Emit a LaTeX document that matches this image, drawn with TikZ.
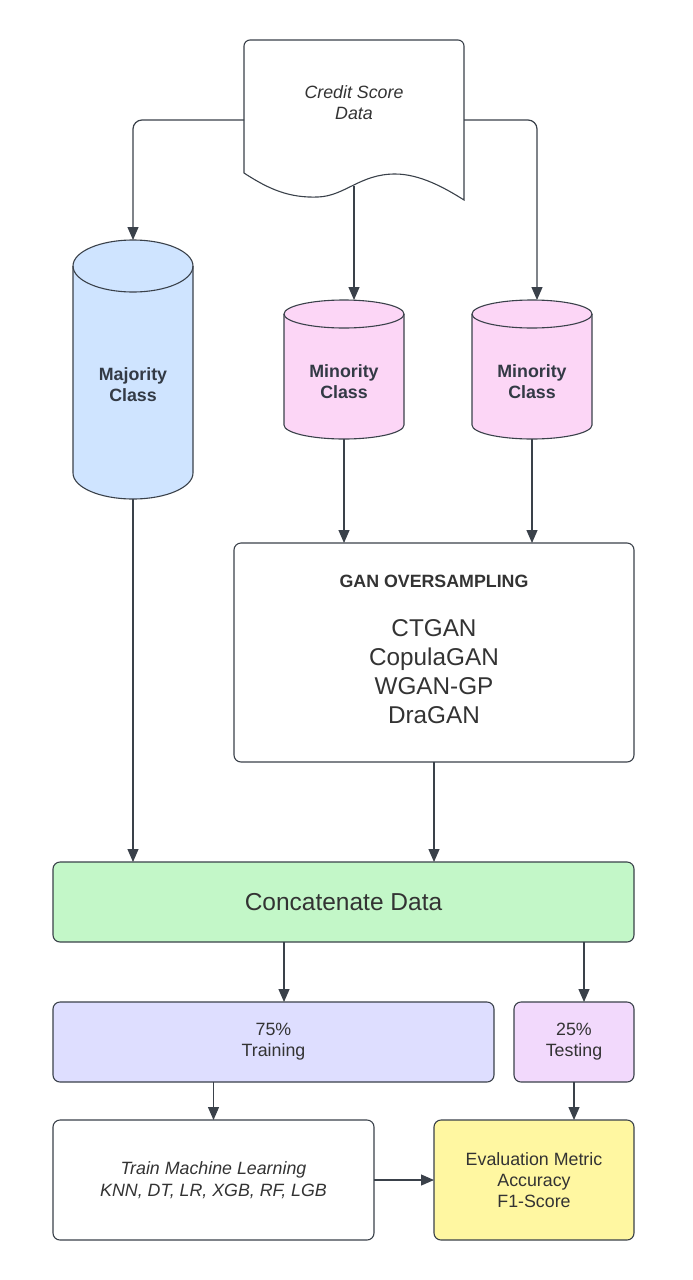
\documentclass[tikz,border=0pt]{standalone}
\usepackage{fontspec}
\setmainfont{Liberation Sans}
\usetikzlibrary{arrows.meta,backgrounds}
\definecolor{ln}{HTML}{3A414A}
\definecolor{tx}{HTML}{333333}
\definecolor{cyltx}{HTML}{333A45}
\definecolor{majfill}{HTML}{CFE4FF}
\definecolor{minfill}{HTML}{FCD6F6}
\definecolor{concatfill}{HTML}{C3F7C8}
\definecolor{trainfill}{HTML}{DEDEFF}
\definecolor{testfill}{HTML}{F2D9FC}
\definecolor{evalfill}{HTML}{FFF7A1}
\newcommand\drawcyl[3]{%
  \path[fill=#3, draw=ln, line width=1.1pt] ([yshift=-#2pt]#1.north west)
    arc[start angle=180,end angle=0,x radius=60pt,y radius=#2pt]
    -- ([yshift=#2pt]#1.south east)
    arc[start angle=0,end angle=-180,x radius=60pt,y radius=#2pt] -- cycle;
  \draw[ln, line width=1.1pt] ([yshift=-#2pt]#1.north west)
    arc[start angle=180,end angle=360,x radius=60pt,y radius=#2pt];}
\begin{document}
\begin{tikzpicture}[x=1pt,y=1pt,
  arr/.style={draw=ln, line width=1.2pt, -{Triangle[length=13pt,width=11pt]}},
  box/.style={draw=ln, line width=1.1pt, rounded corners=7pt, inner sep=0pt, outer sep=0pt, align=center, text=tx},
  cylnode/.style={inner sep=0pt, outer sep=0pt, minimum width=120pt},
  lbl/.style={align=center, text=cyltx, font=\fontsize{17.8}{21.5}\selectfont\bfseries},
  nf/.style={font=\fontsize{17.8}{21}\selectfont}
]
\useasboundingbox (0,0) rectangle (693,-1280);

% document
\node[inner sep=0pt, outer sep=0pt, minimum width=220pt, minimum height=125pt, align=center, text=tx,
      font=\itshape\fontsize{17.8}{21}\selectfont] (doc) at (354,-102.5) {Credit Score\\Data};

% cylinders
\node[cylnode, minimum height=259pt, label={[lbl, yshift=-15pt]center:{Majority\\Class}}] (maj) at (133,-369.5) {};
\node[cylnode, minimum height=139pt, label={[lbl, yshift=-12pt]center:{Minority\\Class}}] (minA) at (344,-369.5) {};
\node[cylnode, minimum height=139pt, label={[lbl, yshift=-12pt]center:{Minority\\Class}}] (minB) at (532,-369.5) {};

% GAN box
\node[box, minimum width=400pt, minimum height=219pt,
  label={[text=tx, font=\fontsize{17.8}{21}\selectfont\bfseries, yshift=71.5pt]center:GAN OVERSAMPLING},
  label={[text=tx, align=center, font=\fontsize{24.3}{29}\selectfont, yshift=-19pt]center:{CTGAN\\CopulaGAN\\WGAN-GP\\DraGAN}}]
  (gan) at (434,-652.5) {};

% concat
\node[box, fill=concatfill, minimum width=581pt, minimum height=80pt, font=\fontsize{24.5}{28}\selectfont]
  (concat) at (343.5,-902) {Concatenate Data};

% train / test
\node[box, nf, fill=trainfill, minimum width=441pt, minimum height=80pt] (train) at (273.5,-1042) {75\%\\Training};
\node[box, nf, fill=testfill, minimum width=120pt, minimum height=80pt] (test) at (574,-1042) {25\%\\Testing};

% ML / eval
\node[box, fill=white, minimum width=321pt, minimum height=120pt, font=\itshape\fontsize{17.8}{22}\selectfont]
  (ml) at (213.5,-1180) {Train Machine Learning\\KNN, DT, LR, XGB, RF, LGB};
\node[box, nf, fill=evalfill, minimum width=200pt, minimum height=120pt] (eval) at (534,-1180)
  {Evaluation Metric\\Accuracy\\F1-Score};

\begin{scope}[on background layer]
  \path[fill=white, draw=ln, line width=1.1pt]
    (244,-173) -- (244,-46) arc[start angle=180,end angle=90,radius=6pt]
    -- (458,-40) arc[start angle=90,end angle=0,radius=6pt]
    -- (464,-200) .. controls (445,-188) and (420,-174) .. (395,-174)
    .. controls (360,-174) and (345,-196) .. (318,-197)
    .. controls (290,-198) and (270,-190) .. (244,-173) -- cycle;
  \drawcyl{maj}{26}{majfill}
  \drawcyl{minA}{14}{minfill}
  \drawcyl{minB}{14}{minfill}
\end{scope}

% connectors
\draw[arr, rounded corners=9pt] ([yshift=-17.5pt]doc.west) -| (maj.north);
\draw[arr, rounded corners=9pt] ([yshift=-17.5pt]doc.east) -| ([xshift=5pt]minB.north);
\draw[arr] ([yshift=-21pt]doc.south) -- (doc.south |- minA.north);
\draw[arr] (minA.south) -- (minA.south |- gan.north);
\draw[arr] (minB.south) -- (minB.south |- gan.north);
\draw[arr] (maj.south) -- (maj.south |- concat.north);
\draw[arr] (gan.south) -- (gan.south |- concat.north);
\draw[arr] ([xshift=10.5pt]train.north |- concat.south) -- ([xshift=10.5pt]train.north);
\draw[arr] ([xshift=10pt]test.north |- concat.south) -- ([xshift=10pt]test.north);
\draw[arr] (ml.north |- train.south) -- (ml.north);
\draw[arr] (test.south) -- ([xshift=40pt]eval.north);
\draw[arr] (ml.east) -- (eval.west);
\end{tikzpicture}
\end{document}
